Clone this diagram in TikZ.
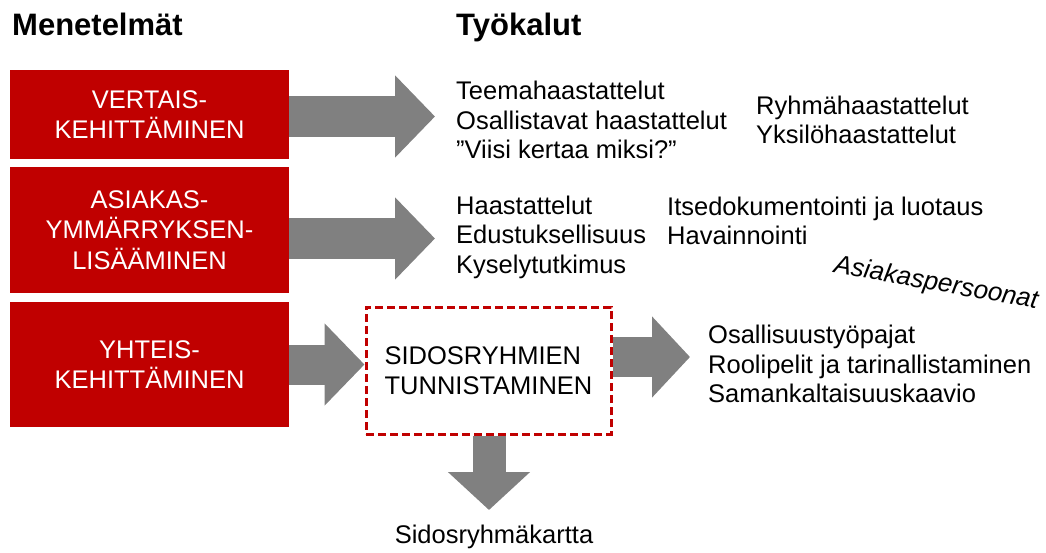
\documentclass[tikz,border=0pt]{standalone}
\usepackage{fontspec}
\setmainfont{Liberation Sans}
\usetikzlibrary{arrows.meta}
\definecolor{boxred}{HTML}{C00000}
\definecolor{arrowgray}{HTML}{808080}
\begin{document}
\begin{tikzpicture}[x=1pt, y=-1pt,
  method/.style={fill=boxred, text=white, align=center, inner sep=0pt, outer sep=0pt,
    minimum width=279pt, font=\fontsize{25.5pt}{30.5pt}\selectfont},
  tools/.style={anchor=west, align=left, inner sep=0pt, font=\fontsize{25.5pt}{29.5pt}\selectfont},
  heading/.style={anchor=base west, inner sep=0pt, font=\bfseries\fontsize{31pt}{36pt}\selectfont},
  blockarrow/.style={draw=arrowgray, line width=41pt, -{Triangle[length=40pt,width=80pt]}}]
\useasboundingbox [fill=white] (0, 0) rectangle (1046, 552);

\node [heading] (menetelmat) at (12, 35) {Menetelmät};
\node [heading] (tyokalut) at (456, 35) {Työkalut};

\node [method, minimum height=89pt] (vertais) at (149.5, 114.5) {VERTAIS-\\KEHITTÄMINEN};
\node [method, minimum height=126pt] (asiakas) at (149.5, 230) {ASIAKAS-\\YMMÄRRYKSEN-\\LISÄÄMINEN};
\node [method, minimum height=125pt] (yhteis) at (149.5, 364.5) {YHTEIS-\\KEHITTÄMINEN};

\node [draw=boxred, line width=3pt, dash pattern=on 8pt off 4pt, minimum width=245pt, minimum height=127pt,
  align=left, inner sep=0pt, font=\fontsize{25.5pt}{30pt}\selectfont] (sidos) at (488.5, 370.5) {SIDOSRYHMIEN\\TUNNISTAMINEN};
\node [anchor=base, inner sep=0pt, font=\fontsize{25.5pt}{30pt}\selectfont] (kartta) at (494, 543) {Sidosryhmäkartta};

\node [tools] (tools1) at (456, 120) {Teemahaastattelut\\Osallistavat haastattelut\\”Viisi kertaa miksi?”};
\node [tools] (tools1b) at (756, 120) {Ryhmähaastattelut\\Yksilöhaastattelut};
\node [tools] (tools2) at (456, 237) {Haastattelut\\Edustuksellisuus\\Kyselytutkimus};
\node [tools] (tools2b) at (667, 221) {Itsedokumentointi ja luotaus\\Havainnointi};
\node [tools] (tools3) at (708, 364) {Osallisuustyöpajat\\Roolipelit ja tarinallistaminen\\Samankaltaisuuskaavio};
\node [inner sep=0pt, rotate=-10, font=\itshape\fontsize{26pt}{30pt}\selectfont] (persoonat) at (936, 284) {Asiakaspersoonat};

\coordinate (tip1) at (435, 116.5);
\coordinate (tip2) at (435, 238.5);
\coordinate (tip4) at (690, 357);
\coordinate (tip5) at (489, 510);

\draw [blockarrow] (vertais.east |- tip1) -- (tip1);
\draw [blockarrow] (asiakas.east |- tip2) -- (tip2);
\draw [blockarrow, line width=40pt] (yhteis.east) -- (yhteis.east -| sidos.west);
\draw [blockarrow, line width=40pt, -{Triangle[length=38pt,width=79pt]}] (sidos.east |- tip4) -- (tip4);
\draw [blockarrow, line width=33pt, -{Triangle[length=38pt,width=80pt]}] (sidos.south -| tip5) -- (tip5);
\end{tikzpicture}
\end{document}
